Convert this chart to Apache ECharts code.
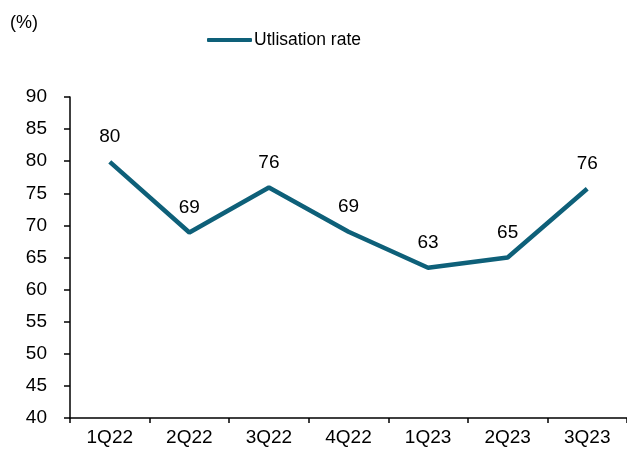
<!DOCTYPE html>
<html><head><meta charset="utf-8">
<script src="https://cdn.jsdelivr.net/npm/echarts@6/dist/echarts.min.js"></script>
<style>html,body{margin:0;padding:0;background:#fff}#c{width:627px;height:450px}</style>
</head><body><div id="c"></div>
<script>
const categories = ['1Q22','2Q22','3Q22','4Q22','1Q23','2Q23','3Q23'];
const utilisation = [79.9, 68.9, 75.9, 69.0, 63.4, 65.0, 75.7];
const seriesName = 'Utlisation rate';
const yMin = 40, yMax = 90, yStep = 5;

const chart = echarts.init(document.getElementById('c'), null, {renderer:'canvas'});
const font = 'Liberation Sans, Arial, sans-serif';
const lineColor = '#0e6079';
chart.setOption({
  animation:false,
  textStyle:{fontFamily:font},
  graphic:[{type:'text', left:10, top:14, style:{text:'(%)', font:'18px '+font, fill:'#000'}}],
  legend:{
    top:26, left:202, itemWidth:45, itemHeight:4, itemGap:4,
    itemStyle:{color:lineColor, opacity:1},
    textStyle:{fontSize:17.5, color:'#000', fontFamily:font, padding:[0,0,0,-3]},
    data:[{name:seriesName, icon:'roundRect', itemStyle:{color:lineColor, opacity:1}}]
  },
  grid:{left:70, right:0, top:97, bottom:32},
  xAxis:{
    type:'category', data:categories, boundaryGap:true,
    axisLine:{lineStyle:{color:'#000', width:1.5}},
    axisTick:{show:true, inside:false, length:5, lineStyle:{color:'#000', width:1.5}},
    axisLabel:{fontSize:19, color:'#000', fontFamily:font, margin:10}
  },
  yAxis:{
    type:'value', min:yMin, max:yMax, interval:yStep,
    splitLine:{show:false},
    axisLine:{show:true, lineStyle:{color:'#000', width:1.5}},
    axisTick:{show:true, length:6, lineStyle:{color:'#000', width:1.5}},
    axisLabel:{fontSize:19, color:'#000', fontFamily:font, margin:23}
  },
  series:[{
    name:seriesName, type:'line', data:utilisation,
    symbol:'circle', symbolSize:1, showSymbol:true,
    lineStyle:{color:lineColor, width:4.5},
    itemStyle:{color:lineColor, opacity:0},
    label:{show:true, position:'top', distance:15, fontSize:19, color:'#000', fontFamily:font, opacity:1,
      formatter:p=>Math.round(p.value)}
  }]
});
</script></body></html>
